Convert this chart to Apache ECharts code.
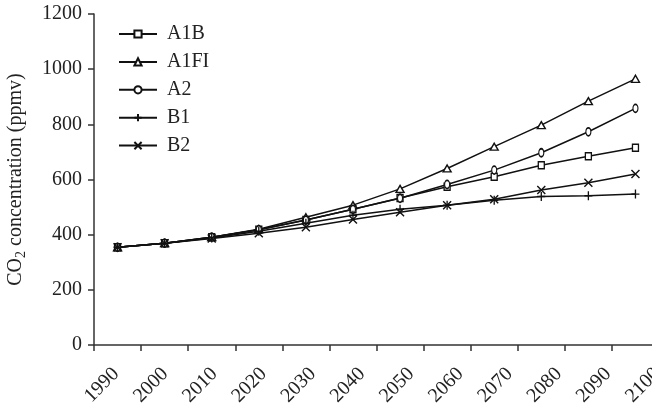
<!DOCTYPE html>
<html>
<head>
<meta charset="utf-8">
<script src="https://cdn.jsdelivr.net/npm/echarts@6/dist/echarts.min.js"></script>
<style>
html,body{margin:0;padding:0;background:#fff;}
#c{width:652px;height:406px;}
</style>
</head>
<body>
<div id="c"></div>
<script>
var years = ['1990','2000','2010','2020','2030','2040','2050','2060','2070','2080','2090','2100'];
var seriesNames = ['A1B','A1FI','A2','B1','B2'];
var A1B  = [354, 369, 391, 418, 453, 492, 533, 574, 610, 652, 684, 715];
var A1FI = [354, 369, 391, 420, 463, 507, 566, 640, 719, 797, 884, 965];
var A2   = [354, 369, 391, 418, 453, 492, 532, 582, 634, 697, 773, 858];
var B1   = [354, 369, 388, 412, 441, 470, 492, 507, 525, 538, 541, 547];
var B2   = [354, 369, 386, 405, 427, 455, 481, 507, 528, 562, 588, 620];
var yTicks = [0, 200, 400, 600, 800, 1000, 1200];

var values = [A1B, A1FI, A2, B1, B2];
var symbols = [
  'path://M0,0L10,0L10,10L0,10Z',
  'path://M5,0L10,10L0,10Z',
  'circle',
  'path://M5,0L5,10M0,5L10,5',
  'path://M0,0L10,10M10,0L0,10'
];
var sizes = [[6,7],[8,7],[5,8],[8,9],[8,8]];

var font = '"Liberation Serif","Times New Roman",serif';
var ink = '#111';
var chart = echarts.init(document.getElementById('c'), null, {renderer:'canvas'});
chart.setOption({
  animation: false,
  backgroundColor: '#fff',
  grid: [
    {left: 94, width: 565, top: 14, height: 331, outerBoundsMode: 'none', containLabel: false},
    {left: 91.4, width: 590.4, top: 14, height: 331, outerBoundsMode: 'none', containLabel: false}
  ],
  legend: {
    orient: 'vertical',
    left: 113, top: 19,
    itemWidth: 38, itemHeight: 9, itemGap: 7.9,
    data: seriesNames,
    textStyle: {fontFamily: font, fontSize: 20, color: '#222', padding: [0,0,0,5]}
  },
  xAxis: [{
    type: 'category',
    gridIndex: 0,
    data: years,
    boundaryGap: true,
    axisLine: {lineStyle: {color: '#333', width: 1.5}},
    axisTick: {show: true, length: 6, lineStyle: {color: '#333', width: 1.5}},
    axisLabel: {show: false}
  }, {
    type: 'category',
    gridIndex: 1,
    data: years,
    boundaryGap: true,
    axisLine: {show: false},
    axisTick: {show: false},
    axisLabel: {rotate: 45, fontFamily: font, fontSize: 20, color: '#222', margin: 26, interval: 0}
  }],
  yAxis: [{
    type: 'value',
    gridIndex: 0,
    min: 0, max: 1200, interval: 200,
    splitLine: {show: false},
    axisLine: {show: true, lineStyle: {color: '#333', width: 1.5}},
    axisTick: {show: true, length: 6, lineStyle: {color: '#333', width: 1.5}},
    axisLabel: {fontFamily: font, fontSize: 20, color: '#222', margin: 12,
      formatter: function(v){ return yTicks.indexOf(v) >= 0 ? String(v) : ''; }},
    name: '{a|CO}{s|2}{a| concentration (ppmv)}',
    nameLocation: 'middle',
    nameRotate: 90,
    nameGap: 66,
    nameTextStyle: {
      rich: {
        a: {fontFamily: font, fontSize: 20, color: '#222', lineHeight: 24},
        s: {fontFamily: font, fontSize: 14, color: '#222', lineHeight: 24, padding: [10,0,0,0]}
      }
    }
  }, {
    type: 'value',
    gridIndex: 1,
    show: false,
    min: 0, max: 1200
  }],
  series: seriesNames.map(function(n, i){
    return {
      name: n,
      type: 'line',
      xAxisIndex: 0,
      yAxisIndex: 0,
      data: values[i],
      symbol: symbols[i],
      symbolSize: sizes[i],
      showAllSymbol: true,
      lineStyle: {color: ink, width: 1.5},
      itemStyle: {color: '#fff', borderColor: ink, borderWidth: 1.4},
      emphasis: {disabled: true}
    };
  })
});
</script>
</body>
</html>
